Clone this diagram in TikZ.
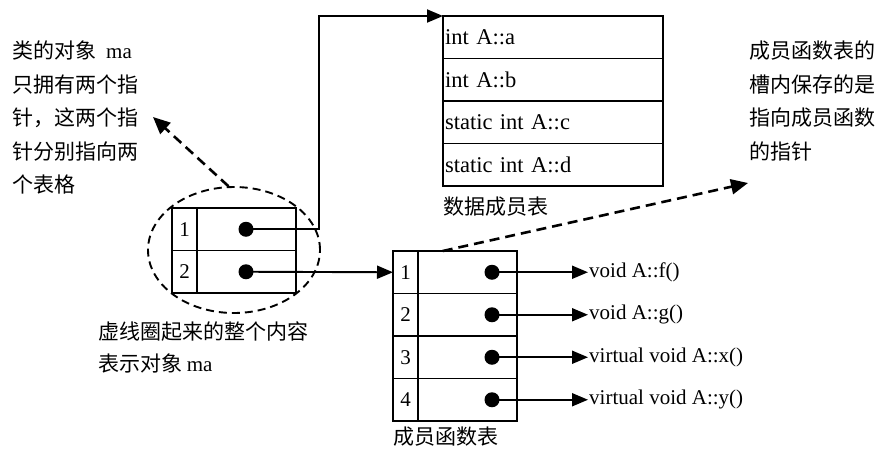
\documentclass[tikz,border=0pt]{standalone}
\usepackage{fontspec}
\setmainfont{Liberation Serif}
\newfontfamily\cjk{Noto Sans CJK SC}
\usetikzlibrary{arrows.meta,shapes,positioning,calc}

\begin{document}
\begin{tikzpicture}[x=1pt,y=-1pt,
  cell/.style={draw, line width=1.6pt, outer sep=0pt, inner sep=1pt,
               minimum height=42.5pt, font=\fontsize{21}{24}\selectfont},
  numcell/.style={cell, minimum width=25pt},
  ptrcell/.style={cell, minimum width=99pt},
  datacell/.style={cell, minimum width=220pt, text width=216pt, align=left,
                   font=\fontsize{22.5}{26}\selectfont},
  dot/.style={circle, fill, inner sep=0pt, minimum size=15pt},
  ptr/.style={line width=1.9pt, -{Triangle[length=16pt,width=13pt]}},
  hint/.style={line width=2.6pt, dash pattern=on 10pt off 6pt,
               -{Triangle[length=17pt,width=15pt]}},
  cjktext/.style={font=\cjk\fontsize{21}{33.5}\selectfont, inner sep=0pt, align=left},
  fname/.style={font=\fontsize{21}{24}\selectfont, inner sep=1pt, anchor=west}]
  \useasboundingbox (0,0) rectangle (876,448);

  % object ma
  \node[numcell, anchor=north west] (o1) at (172,208) {1};
  \node[ptrcell, right=0pt of o1] (oc1) {};
  \node[numcell, below=0pt of o1] (o2) {2};
  \node[ptrcell, right=0pt of o2] (oc2) {};
  \node[dot] (p1) at ($(oc1.east)+(-50,0)$) {};
  \node[dot] (p2) at ($(oc2.east)+(-50,0)$) {};
  \node[draw, ellipse, line width=1.9pt, dash pattern=on 8pt off 5pt,
        minimum width=172pt, minimum height=126pt, inner sep=0pt] (ring) at (234,250) {};

  % data member table
  \node[datacell, anchor=north west] (d1) at (443,16) {int A::a};
  \node[datacell, below=0pt of d1] (d2) {int A::b};
  \node[datacell, below=0pt of d2] (d3) {static int A::c};
  \node[datacell, below=0pt of d3] (d4) {static int A::d};
  \node[cjktext, anchor=west] (dname) at (443,207) {数据成员表};

  % member function table
  \node[numcell, anchor=north west] (f1) at (393,251) {1};
  \node[ptrcell, right=0pt of f1] (fc1) {};
  \node[numcell, below=0pt of f1] (f2) {2};
  \node[ptrcell, right=0pt of f2] (fc2) {};
  \node[numcell, below=0pt of f2] (f3) {3};
  \node[ptrcell, right=0pt of f3] (fc3) {};
  \node[numcell, below=0pt of f3] (f4) {4};
  \node[ptrcell, right=0pt of f4] (fc4) {};
  \node[cjktext, anchor=west] (fname) at (393,437) {成员函数表};

  \node[dot] (fp1) at ($(fc1.east)+(-25,0)$) {};
  \node[dot] (fp2) at ($(fc2.east)+(-25,0)$) {};
  \node[dot] (fp3) at ($(fc3.east)+(-25,0)$) {};
  \node[dot] (fp4) at ($(fc4.east)+(-25,0)$) {};
  \node[fname] (fn1) at ($(fp1)+(96,0)$) {void A::f()};
  \node[fname] (fn2) at ($(fp2)+(96,0)$) {void A::g()};
  \node[fname] (fn3) at ($(fp3)+(96,0)$) {virtual void A::x()};
  \node[fname] (fn4) at ($(fp4)+(96,0)$) {virtual void A::y()};

  % pointers
  \coordinate (turn) at (319,16);
  \draw[ptr] (p1.center) -| (turn) -- (d1.north west);
  \draw[ptr] (p2.center) -- (f1.west);
  \draw[ptr] (fp1.center) -- (fn1.west);
  \draw[ptr] (fp2.center) -- (fn2.west);
  \draw[ptr] (fp3.center) -- (fn3.west);
  \draw[ptr] (fp4.center) -- (fn4.west);

  % notes
  \node[cjktext, anchor=north west] (noteA) at (12,41)
    {类的对象\hspace{10pt}{\rmfamily ma}\\只拥有两个指\\针，这两个指\\针分别指向两\\个表格};
  \node[cjktext, anchor=north west] (noteB) at (749,41)
    {成员函数表的\\槽内保存的是\\指向成员函数\\的指针};
  \node[cjktext, anchor=north west, font=\cjk\fontsize{21}{32}\selectfont] (ringnote) at (98,322)
    {虚线圈起来的整个内容\\表示对象 {\rmfamily ma}};
  \coordinate (tipA) at (153,117);
  \coordinate (tipB) at (748,183);
  \draw[hint] (ring.95) -- (tipA);
  \draw[hint] ($(fc1.north west)!0.25!(fc1.north east)$) -- (tipB);
\end{tikzpicture}
\end{document}
